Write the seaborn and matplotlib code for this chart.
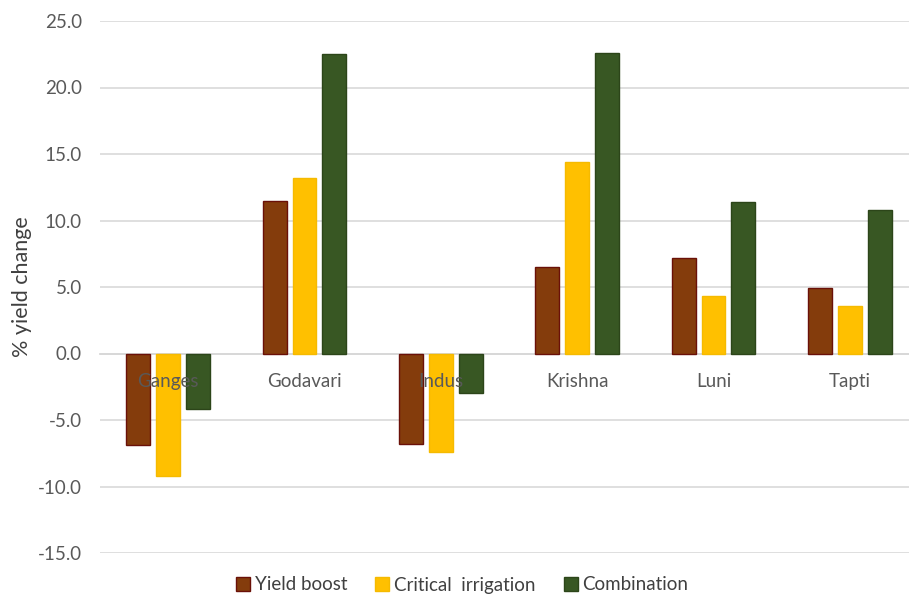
import matplotlib
matplotlib.use("Agg")
import matplotlib.pyplot as plt
import seaborn as sns
import pandas as pd
from matplotlib.patches import Patch

# ---- data ----
rivers = ["Ganges", "Godavari", "Indus", "Krishna", "Luni", "Tapti"]
yield_boost = [-6.9, 11.5, -6.8, 6.5, 7.2, 4.9]
critical_irrigation = [-9.2, 13.2, -7.4, 14.4, 4.3, 3.6]
combination = [-4.2, 22.5, -3.0, 22.6, 11.4, 10.8]
series_names = ["Yield boost", "Critical  irrigation", "Combination"]
y_ticks = [-15.0, -10.0, -5.0, 0.0, 5.0, 10.0, 15.0, 20.0, 25.0]

colors = ["#843C0C", "#FFC000", "#385723"]
edges = ["#6A1008", "#F5BA00", "#2C4519"]

rows = []
for name, vals in zip(series_names, [yield_boost, critical_irrigation, combination]):
    for r, v in zip(rivers, vals):
        rows.append({"River": r, "Scenario": name, "Change": v})
df = pd.DataFrame(rows)

sns.set_theme(style="white")
plt.rcParams["font.family"] = ["Lato", "DejaVu Sans"]

fig = plt.figure(figsize=(9.09, 5.97), dpi=100)
ax = fig.add_axes([100 / 909, 44 / 597, 818 / 909, 532 / 597])

sns.barplot(data=df, x="River", y="Change", hue="Scenario", order=rivers,
            hue_order=series_names, palette=colors, saturation=1,
            width=0.66, gap=0.2, ax=ax, legend=False, errorbar=None, zorder=2)

for cont, ec in zip(ax.containers, edges):
    for p in cont:
        p.set_edgecolor(ec)
        p.set_linewidth(1.0)

ax.set_ylim(-15, 25)
ax.set_xlim(-0.5, 5.5)
ax.set_yticks(y_ticks)
ax.set_yticklabels([f"{t:.1f}" for t in y_ticks])
ax.set_axisbelow(True)
ax.yaxis.grid(True, color="#D9D9D9", linewidth=1.2)
ax.xaxis.grid(False)
ax.xaxis.set_zorder(3)
for s in ["top", "right", "left"]:
    ax.spines[s].set_visible(False)
ax.spines["bottom"].set_position(("data", 0))
ax.spines["bottom"].set_color("#D0D0D0")
ax.spines["bottom"].set_linewidth(1.2)
ax.spines["bottom"].set_zorder(0.5)

ax.tick_params(axis="x", length=0, pad=14, labelsize=13.5, labelcolor="#595959")
ax.tick_params(axis="y", length=0, pad=13, labelsize=13.5, labelcolor="#595959")
ax.set_xlabel("")
ax.set_ylabel("% yield change", fontsize=15.5, color="#404040", labelpad=4)

handles = [Patch(facecolor=c, edgecolor=e, label=n) for c, e, n in zip(colors, edges, series_names)]
fig.legend(handles=handles, loc="center", bbox_to_anchor=(462 / 909, 12 / 597),
           ncol=3, frameon=False, fontsize=13.5, handlelength=0.75, handleheight=0.75,
           handletextpad=0.25, columnspacing=1.5, labelcolor="#404040",
           borderpad=0.1)

fig.savefig("out.png", dpi=100)
